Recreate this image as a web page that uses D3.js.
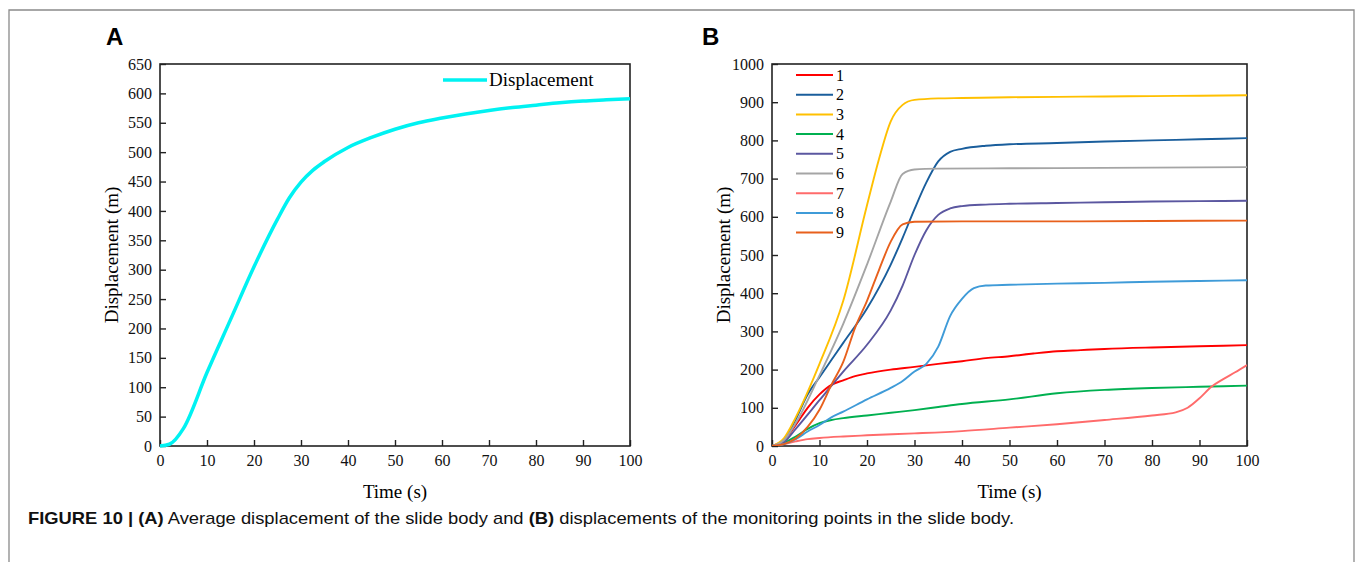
<!DOCTYPE html>
<html>
<head>
<meta charset="utf-8">
<script src="https://cdn.jsdelivr.net/npm/d3@7"></script>
<style>
  body { margin: 0; background: #fff; }
</style>
</head>
<body>
<div id="chart"></div>
<script>
// panel A: average displacement
var timeA = [0, 2, 5, 10, 15, 20, 25, 27.5, 30, 32.5, 35, 40, 45, 50, 55, 60, 65, 70, 75, 80, 85, 90, 95, 100];
var dispA = [0, 3, 30, 125, 215, 305, 386, 422, 449, 469, 484, 508, 525, 539, 550, 558, 565, 571, 576, 580, 584, 587, 589, 591];

// panel B: monitoring points, each series has its own time/value arrays
var p1t = [0, 2.5, 5, 7.5, 10, 12.5, 15, 17.5, 20, 25, 30, 35, 40, 45, 50, 55, 60, 65, 70, 80, 90, 100];
var p1v = [0, 15, 55, 100, 135, 160, 172, 183, 190, 200, 207, 215, 222, 230, 235, 242, 248, 251, 254, 258, 261, 264];
var p2t = [0, 2.5, 5, 7.5, 10, 12.5, 15, 20, 25, 27.5, 30, 32.5, 35, 37.5, 40, 45, 50, 60, 70, 80, 90, 100];
var p2v = [0, 15, 70, 135, 180, 225, 270, 360, 475, 545, 620, 690, 745, 770, 778, 786, 790, 793, 797, 800, 803, 806];
var p3t = [0, 2.5, 5, 10, 15, 20, 22.5, 25, 27.5, 30, 35, 40, 50, 60, 70, 80, 90, 100];
var p3v = [0, 20, 75, 215, 380, 630, 750, 850, 893, 906, 910, 911, 913, 914, 915, 916, 917, 918];
var p4t = [0, 2.5, 5, 7.5, 10, 12.5, 15, 20, 25, 30, 35, 40, 50, 60, 70, 80, 90, 100];
var p4v = [0, 8, 25, 45, 60, 68, 73, 80, 87, 94, 102, 110, 122, 138, 147, 152, 155, 158];
var p5t = [0, 2.5, 5, 10, 15, 20, 25, 27.5, 30, 32.5, 35, 37.5, 40, 45, 50, 60, 70, 80, 90, 100];
var p5v = [0, 10, 45, 120, 195, 265, 355, 420, 500, 565, 605, 622, 628, 632, 634, 636, 638, 640, 641, 642];
var p6t = [0, 2.5, 5, 10, 15, 20, 25, 27.5, 30, 35, 50, 70, 100];
var p6v = [0, 15, 60, 185, 320, 475, 640, 712, 724, 726, 727, 728, 730];
var p7t = [0, 2.5, 5, 7.5, 10, 15, 20, 30, 40, 50, 60, 70, 80, 85, 87.5, 90, 92.5, 95, 97.5, 100];
var p7v = [0, 5, 12, 18, 21, 25, 28, 33, 39, 48, 57, 68, 80, 88, 100, 125, 155, 175, 193, 212];
var p8t = [0, 2.5, 5, 7.5, 10, 12.5, 15, 20, 25, 27.5, 30, 32.5, 35, 37.5, 40, 42.5, 45, 50, 60, 70, 80, 90, 100];
var p8v = [0, 5, 18, 38, 55, 75, 90, 122, 152, 170, 195, 215, 260, 340, 385, 413, 420, 422, 425, 427, 430, 432, 434];
var p9t = [0, 2.5, 5, 7.5, 10, 12.5, 15, 17.5, 20, 22.5, 25, 27.5, 30, 40, 60, 80, 100];
var p9v = [0, 5, 20, 50, 95, 160, 220, 310, 380, 460, 535, 580, 587, 588, 588, 589, 590];

var seriesNames = ["1", "2", "3", "4", "5", "6", "7", "8", "9"];
var seriesColors = ["#ff0000", "#1a5e9c", "#ffc000", "#00b050", "#5b57a0", "#a5a5a5", "#ff6b6b", "#3f9bd8", "#e8601c"];
var seriesT = [p1t, p2t, p3t, p4t, p5t, p6t, p7t, p8t, p9t];
var seriesV = [p1v, p2v, p3v, p4v, p5v, p6v, p7v, p8v, p9v];

var W = 1357, H = 562;
var svg = d3.select("#chart").append("svg")
  .attr("width", W)
  .attr("height", H);

// outer frame of the figure
svg.append("path")
  .attr("d", "M9,570 V10 H1354 V570")
  .attr("fill", "none")
  .attr("stroke", "#8a8a8a")
  .attr("stroke-width", 1.3);

function styleAxis(a) {
  a.select(".domain").remove();
  a.attr("font-family", "Liberation Serif, serif").attr("font-size", 16);
  a.selectAll("line").attr("stroke", "#222").attr("stroke-width", 1.4);
  a.selectAll("text").attr("fill", "#111");
}

function panel(left, right, yMax, yStep, label, labelX) {
  var x = d3.scaleLinear().domain([0, 100]).range([left, right]);
  var y = d3.scaleLinear().domain([0, yMax]).range([446, 64]);

  var g = svg.append("g");

  g.append("g")
    .attr("transform", "translate(0,446)")
    .call(d3.axisBottom(x).tickValues(d3.range(0, 101, 10)).tickSizeInner(-6).tickSizeOuter(0).tickPadding(9))
    .call(styleAxis);

  g.append("g")
    .attr("transform", "translate(" + left + ",0)")
    .call(d3.axisLeft(y).tickValues(d3.range(0, yMax + 1, yStep)).tickFormat(d3.format("d"))
      .tickSizeInner(-6).tickSizeOuter(0).tickPadding(8))
    .call(styleAxis);

  g.append("rect")
    .attr("x", left).attr("y", 64)
    .attr("width", right - left).attr("height", 382)
    .attr("fill", "none")
    .attr("stroke", "#222")
    .attr("stroke-width", 1.6);

  g.append("text")
    .attr("x", (left + right) / 2).attr("y", 498)
    .attr("text-anchor", "middle")
    .attr("font-family", "Liberation Serif, serif")
    .attr("font-size", 19)
    .text("Time (s)");

  g.append("text")
    .attr("transform", "translate(" + (left - 42) + ",255) rotate(-90)")
    .attr("text-anchor", "middle")
    .attr("font-family", "Liberation Serif, serif")
    .attr("font-size", 19)
    .text("Displacement (m)");

  g.append("text")
    .attr("x", labelX).attr("y", 45)
    .attr("font-family", "Liberation Sans, Arial, sans-serif")
    .attr("font-weight", "bold")
    .attr("font-size", 24)
    .text(label);

  return {x: x, y: y, g: g};
}

// panel A
var pa = panel(160, 630, 650, 50, "A", 106);
var lineA = d3.line()
  .x(function(d, i) { return pa.x(timeA[i]); })
  .y(function(d) { return pa.y(d); })
  .curve(d3.curveMonotoneX);

pa.g.append("path")
  .attr("d", lineA(dispA))
  .attr("fill", "none")
  .attr("stroke", "#00f2f2")
  .attr("stroke-width", 3.5);

pa.g.append("line")
  .attr("x1", 443).attr("x2", 487).attr("y1", 80).attr("y2", 80)
  .attr("stroke", "#00f2f2").attr("stroke-width", 3.5);
pa.g.append("text")
  .attr("x", 489).attr("y", 86)
  .attr("font-family", "Liberation Serif, serif")
  .attr("font-size", 19)
  .text("Displacement");

// panel B
var pb = panel(772, 1247, 1000, 100, "B", 702);
pb.g.append("clipPath").attr("id", "clipB")
  .append("rect").attr("x", 772).attr("y", 64).attr("width", 475).attr("height", 382);

seriesV.forEach(function(vals, k) {
  var ts = seriesT[k];
  var line = d3.line()
    .x(function(d, i) { return pb.x(ts[i]); })
    .y(function(d) { return pb.y(d); })
    .curve(d3.curveMonotoneX);
  pb.g.append("path")
    .attr("d", line(vals))
    .attr("clip-path", "url(#clipB)")
    .attr("fill", "none")
    .attr("stroke", seriesColors[k])
    .attr("stroke-width", 1.9);
});

var legB = pb.g.append("g").selectAll("g")
  .data(seriesNames)
  .enter().append("g")
  .attr("transform", function(d, i) { return "translate(0," + (75 + i * 19.7) + ")"; });
legB.append("line")
  .attr("x1", 796).attr("x2", 833)
  .attr("stroke", function(d, i) { return seriesColors[i]; })
  .attr("stroke-width", 2);
legB.append("text")
  .attr("x", 836).attr("y", 5.5)
  .attr("font-family", "Liberation Serif, serif")
  .attr("font-size", 16)
  .text(function(d) { return d; });

// caption
var cap = svg.append("text")
  .attr("x", 28).attr("y", 524)
  .attr("font-family", "Liberation Sans, Arial, sans-serif")
  .attr("font-size", 17)
  .attr("textLength", 986)
  .attr("lengthAdjust", "spacingAndGlyphs")
  .attr("fill", "#111");
cap.append("tspan").attr("font-weight", "bold").text("FIGURE 10 | (A)");
cap.append("tspan").text(" Average displacement of the slide body and ");
cap.append("tspan").attr("font-weight", "bold").text("(B)");
cap.append("tspan").text(" displacements of the monitoring points in the slide body.");
</script>
</body>
</html>
